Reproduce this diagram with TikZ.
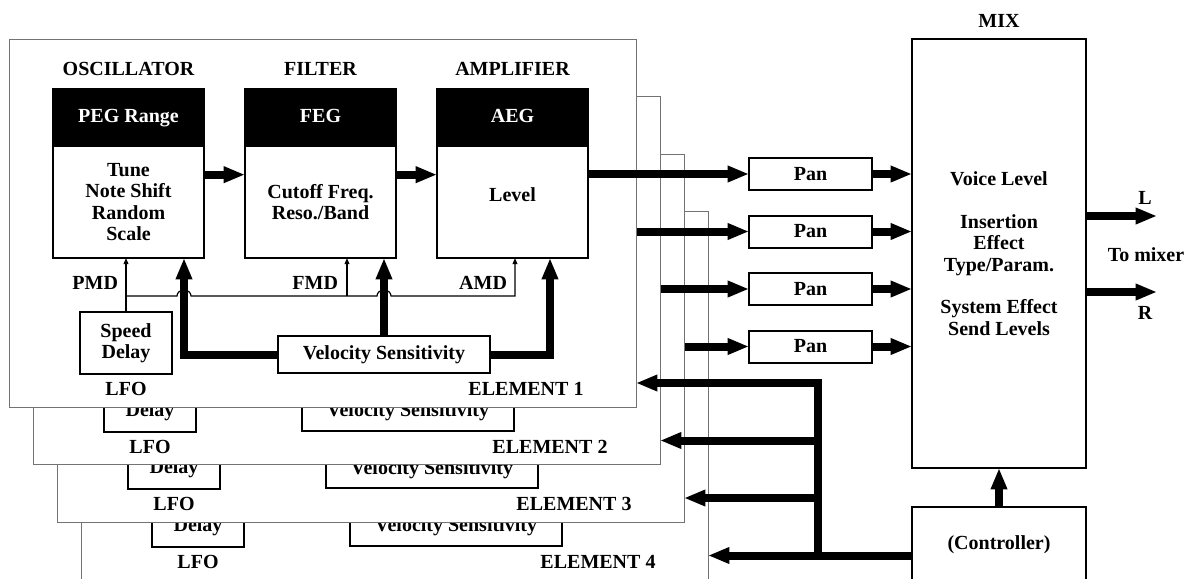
\documentclass[tikz,border=0pt]{standalone}
\usepackage{fontspec}
\setmainfont{Liberation Serif}
\usetikzlibrary{arrows.meta,calc}
\begin{document}
\begin{tikzpicture}[x=0.75pt,y=-0.75pt,
  every node/.style={font=\bfseries\fontsize{15}{16}\selectfont, inner sep=0pt, outer sep=0pt, align=center},
  box/.style={draw=black, line width=1.5pt, fill=white},
  hdr/.style={draw=black, line width=1.5pt, fill=black, text=white, minimum width=113.25pt, minimum height=42.75pt, anchor=north, text height=10pt, text depth=3pt},
  bodybox/.style={box, minimum width=113.25pt, minimum height=84pt, anchor=north},
  framebox/.style={draw=black!55, line width=0.75pt, fill=white, minimum width=470.25pt, minimum height=276pt, anchor=north west},
  thickarrow/.style={line width=6pt, -{Triangle[length=16pt,width=11.5pt]}},
  thinarrow/.style={line width=0.9pt, -{Triangle[length=4.5pt,width=3.5pt]}}
]
\useasboundingbox (0,0) rectangle (1188,578);
\clip (0,0) rectangle (1188,578);

% Pan boxes and mix
\foreach \n in {1,...,4}{
  \pgfmathsetmacro{\py}{174+57.5*(\n-1)}
  \node[box, minimum width=92.25pt, minimum height=24pt] (pan\n) at (810.5,\py) {Pan};
}
\node (mixlbl) at (999,21) {MIX};
\node[box, minimum width=130.5pt, minimum height=321.75pt] (mix) at (999,253.5)
  {Voice Level\\[16pt]Insertion\\Effect\\Type/Param.\\[16pt]System Effect\\Send Levels};
\node[box, minimum width=130.5pt, minimum height=72.75pt, anchor=north] (ctrl) at (999,507) {};
\node (ctrltxt) at (999,545) {(Controller)};

% Elements 4..2 (only their visible parts)
\foreach \n in {4,3,2}{
  \pgfmathsetmacro{\dx}{24*(\n-1)}
  \pgfmathsetmacro{\dy}{57.5*(\n-1)}
  \begin{scope}[shift={(\dx,\dy)}]
    \node[framebox] (el\n) at (9,39) {};
    \coordinate (ampo\n) at (588,174);
    \draw[thickarrow] (ampo\n |- pan\n.west) -- (pan\n.west);
    \node[box, minimum width=69pt, minimum height=46.5pt] (sd\n) at (126,343) {\strut\\Delay};
    \node (lfo\n) at (126,389) {LFO};
    \node[box, minimum width=159pt, minimum height=27.75pt] (vel\n) at (384,354.5) {Velocity Sensitivity};
    \node (ellbl\n) at (526,389) {ELEMENT \n};
  \end{scope}
}

% Element 1
\node[framebox] (el1) at (9,39) {};
\node (osclbl1) at (128.5,69) {OSCILLATOR};
\node (fillbl1) at (320.5,69) {FILTER};
\node (amplbl1) at (512.5,69) {AMPLIFIER};
\node[hdr] (osch1) at (128.5,89) {PEG Range};
\node[bodybox] (oscb1) at (128.5,146) {Tune\\Note Shift\\Random\\Scale};
\node[hdr] (filh1) at (320.5,89) {FEG};
\node[bodybox] (filb1) at (320.5,146) {Cutoff Freq.\\Reso./Band};
\node[hdr] (amph1) at (512.5,89) {AEG};
\node[bodybox, text depth=10.5pt] (ampb1) at (512.5,146) {Level};
\draw[thickarrow] ([yshift=20.5pt]oscb1.east) -- ([yshift=20.5pt]filb1.west);
\draw[thickarrow] ([yshift=20.5pt]filb1.east) -- ([yshift=20.5pt]ampb1.west);
\draw[thickarrow] (ampb1.east |- pan1.west) -- (pan1.west);
\node[box, minimum width=69pt, minimum height=46.5pt] (sd1) at (126,343) {Speed\\Delay};
\node (lfo1) at (126,389) {LFO};
\node[box, minimum width=159pt, minimum height=27.75pt] (vel1) at (384,354.5) {Velocity Sensitivity};
\node (ellbl1) at (526,389) {ELEMENT 1};
\node[anchor=east] (pmd1) at (118,283) {PMD};
\node[anchor=east] (fmd1) at (338,283) {FMD};
\node[anchor=east] (amd1) at (507,283) {AMD};
\coordinate (modj1) at (126,296);
\coordinate (fmdj1) at (347,296);
\coordinate (amdj1) at (515,296);
\draw[thinarrow] (sd1.north) -- (sd1.north |- oscb1.south);
\draw[thinarrow] (modj1) -- (177,296) arc[start angle=180,end angle=0,x radius=5.25pt,y radius=4.5pt]
   -- (377,296) arc[start angle=180,end angle=0,x radius=5.25pt,y radius=4.5pt]
   -- (amdj1) -- (amdj1 |- ampb1.south);
\draw[thinarrow] (fmdj1) -- (fmdj1 |- filb1.south);
\draw[thickarrow] (vel1.west) -| ([xshift=41.625pt]oscb1.south);
\draw[thickarrow] (vel1.north) -- (vel1.north |- filb1.south);
\draw[thickarrow] (vel1.east) -| ([xshift=28.125pt]ampb1.south);

% Pan to mix
\foreach \n in {1,...,4}{
  \draw[thickarrow] (pan\n.east) -- (pan\n.east -| mix.west);
}

% outputs
\coordinate (Lend) at (1157,216);
\coordinate (Rend) at (1157,292);
\draw[thickarrow] (Lend -| mix.east) -- (Lend);
\draw[thickarrow] (Rend -| mix.east) -- (Rend);
\node (Llbl) at (1145,198) {L};
\node (Rlbl) at (1145,313) {R};
\node (tomix) at (1146,255) {To mixer};

% controller
\draw[thickarrow] (ctrl.north) -- (mix.south);
\coordinate (bus) at (818,383);
\foreach \n in {1,...,4}{
  \coordinate (ret\n) at ($(el\n.south east)+(0,-24)$);
}
\draw[thickarrow] (ctrl.west) -- (ret4);
\draw[thickarrow] (bus |- ctrl.west) -- (bus |- ret1) -- (ret1);
\draw[thickarrow] (bus |- ret2) -- (ret2);
\draw[thickarrow] (bus |- ret3) -- (ret3);
\end{tikzpicture}
\end{document}
